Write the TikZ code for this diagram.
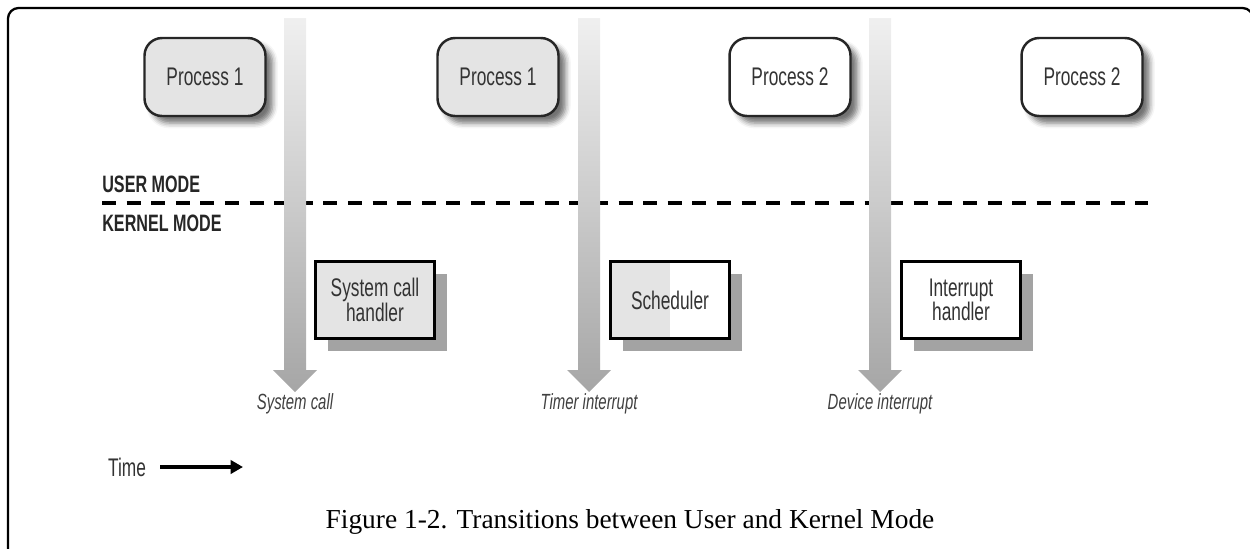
\documentclass[tikz,border=0pt]{standalone}
\usepackage{fontspec}
\setmainfont{Liberation Serif}
\newfontfamily\condsans[FakeStretch=0.68]{Liberation Sans}
\usetikzlibrary{arrows.meta,shadows,shadows.blur}
\definecolor{boxgray}{HTML}{E4E4E4}
\definecolor{txtgray}{HTML}{333333}
\tikzset{
  proc/.style={draw=black!85, line width=1.4pt, rounded corners=10pt,
    minimum width=2.42cm, minimum height=1.56cm, text=txtgray,
    font=\condsans\fontsize{14.5}{16}\selectfont,
    blur shadow={shadow xshift=4pt, shadow yshift=-4pt, shadow blur radius=3pt, shadow opacity=55}},
  handler/.style={draw=black, line width=1.2pt, fill=white,
    minimum width=2.38cm, minimum height=1.54cm, align=center, text=txtgray,
    font=\condsans\fontsize{14.5}{14}\selectfont,
    drop shadow={shadow xshift=7pt, shadow yshift=-7pt, fill=black!40, opacity=.9}},
  modelabel/.style={anchor=west, inner sep=0pt, text=black!85,
    font=\condsans\bfseries\fontsize{13.5}{15}\selectfont},
  evlabel/.style={text=black!75, font=\condsans\itshape\fontsize{12.5}{14}\selectfont},
  timearrow/.style={top color=black!6, bottom color=black!35, draw=none},
}
\begin{document}
\begin{tikzpicture}[x=0.02cm, y=-0.02cm]
  \useasboundingbox (0,0) rectangle (1250,548);
  % cornice
  \draw[line width=1.3pt, rounded corners=6pt] (8,560) -- (8,8) -- (1253,8) -- (1253,560);
  % modi
  \node[modelabel] (user) at (102,184) {USER MODE};
  \node[modelabel] (kernel) at (102,223) {KERNEL MODE};
  \coordinate (dashL) at (102,203);
  \coordinate (dashR) at (1148,203);
  \draw[line width=1.8pt, dash pattern=on 8pt off 6pt] (dashL) -- (dashR);
  % frecce del tempo
  \foreach \x/\lbl/\nm in {295/System call/ev1, 589/Timer interrupt/ev2, 880/Device interrupt/ev3} {
    \shade[timearrow] (\x-11,18) -- (\x+11,18) -- (\x+11,370) -- (\x+22,370)
      -- (\x,392) -- (\x-22,370) -- (\x-11,370) -- cycle;
    \node[evlabel] (\nm) at (\x,404) {\lbl};
  }
  % processi
  \node[proc, fill=boxgray] (p1a) at (205,77) {Process 1};
  \node[proc, fill=boxgray] (p1b) at (498,77) {Process 1};
  \node[proc, fill=white] (p2a) at (790,77) {Process 2};
  \node[proc, fill=white] (p2b) at (1082,77) {Process 2};
  % gestori nel kernel
  \node[handler, fill=boxgray] (sch) at (375,300) {System call\\handler};
  \node[handler, path picture={\fill[boxgray] (path picture bounding box.south west)
      rectangle (path picture bounding box.north);}] (sched) at (670,300) {Scheduler};
  \node[handler] (inth) at (961,300) {Interrupt\\handler};
  % tempo
  \node[text=black!80, font=\condsans\fontsize{14.5}{16}\selectfont] (time) at (127,467) {Time};
  \coordinate (timeR) at (243,467);
  \draw[line width=1.8pt, -{Triangle[length=7pt, width=7.5pt]}] (time.east) ++(8,0) -- (timeR);
  % didascalia
  \node[anchor=base, font=\fontsize{15.6}{18}\selectfont] (cap) at (630,528)
    {Figure 1-2. Transitions between User and Kernel Mode};
\end{tikzpicture}
\end{document}
